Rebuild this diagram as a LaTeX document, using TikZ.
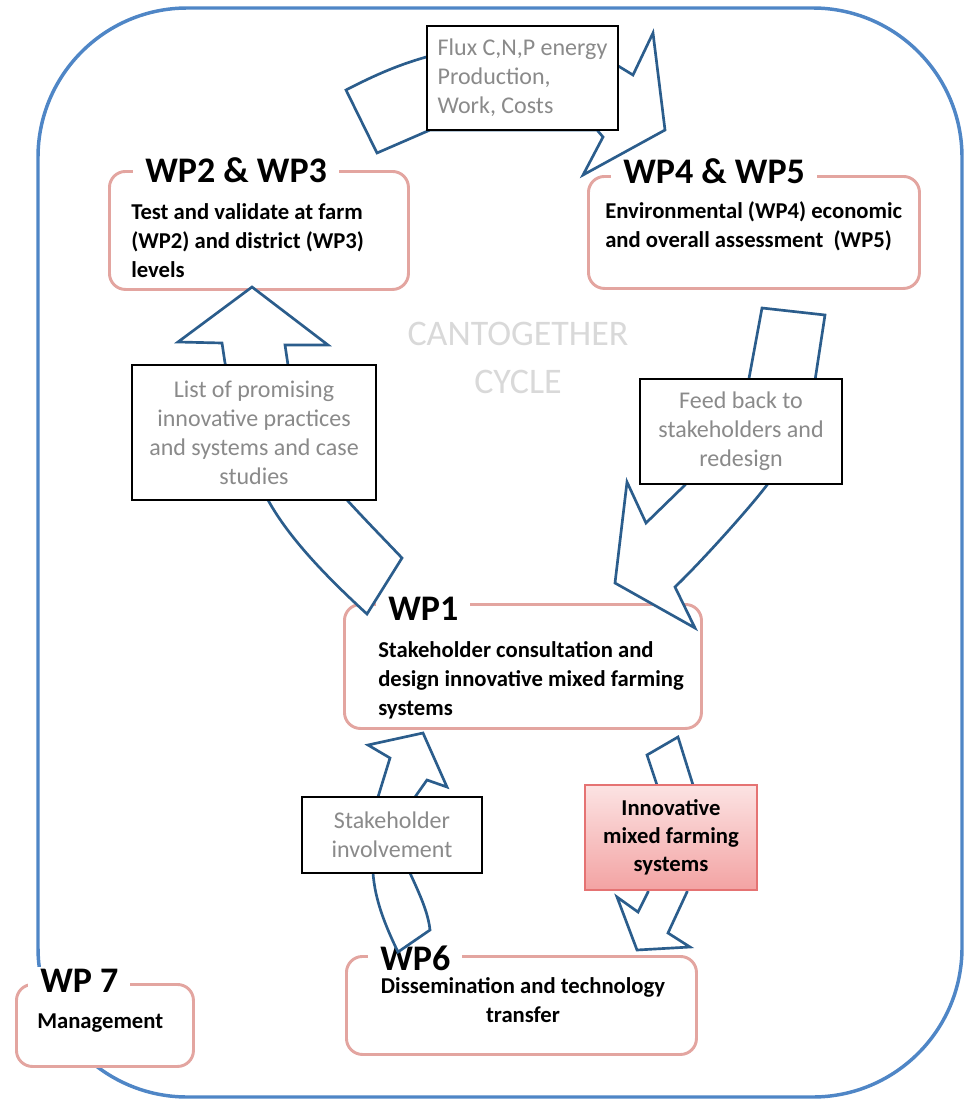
\documentclass[tikz,border=0pt]{standalone}
\usepackage{fontspec}
\setmainfont{Carlito}
\usetikzlibrary{positioning}
\definecolor{frameblue}{HTML}{4F86C6}
\definecolor{arrowblue}{HTML}{2B5D8C}
\definecolor{boxpink}{HTML}{E3A5A0}
\definecolor{labelgray}{HTML}{8A8A8A}
\definecolor{innovtop}{HTML}{FCE3E3}
\definecolor{innovbottom}{HTML}{F3A3A3}
\definecolor{innovedge}{HTML}{E57373}

\begin{document}
\begin{tikzpicture}[x=.75pt,y=-.75pt,
  wpbox/.style={draw=boxpink,line width=2.2pt,rounded corners=12pt,fill=white,anchor=north west,inner sep=0pt},
  wptitle/.style={fill=white,anchor=base west,inner xsep=9pt,inner ysep=1pt,font=\fontsize{27}{32}\selectfont\bfseries},
  wptext/.style={anchor=base west,align=left,inner sep=0pt,font=\fontsize{17}{21.5}\selectfont\bfseries},
  labelbox/.style={draw=black,line width=2.2pt,fill=white,align=center,text=labelgray,inner sep=0pt,font=\fontsize{18}{21.75}\selectfont},
  blockarrow/.style={draw=arrowblue,line width=2pt,fill=white}]
\useasboundingbox (0,0) rectangle (967,1099);
\draw[frameblue,line width=2.6pt,rounded corners=112pt] (38,8) rectangle (962,1097);

% work package boxes
\node[wpbox,minimum width=224.25pt,minimum height=88.5pt] (wp23) at (108,170) {};
\node[wpbox,minimum width=248.25pt,minimum height=84pt] (wp45) at (587,175) {};
\node[wpbox,minimum width=267.75pt,minimum height=93pt] (wp1) at (343,603) {};
\node[wpbox,minimum width=262.5pt,minimum height=73.5pt] (wp6) at (345,955) {};
\node[wpbox,minimum width=132.75pt,minimum height=61.5pt] (wp7) at (15,983) {};

\node[wptitle] (wp23title) at (133,182) {WP2 \& WP3};
\node[wptitle] (wp45title) at (611,183) {WP4 \& WP5};
\node[wptitle] (wp1title) at (376,620) {WP1};
\node[wptitle] (wp6title) at (368,970) {WP6};
\node[wptitle] (wp7title) at (28,992) {WP 7};

% multi-line text: base is the last line
\node[wptext] (wp23text) at (131,277) {Test and validate at farm\\(WP2) and district (WP3)\\levels};
\node[wptext] (wp45text) at (605,247) {Environmental (WP4) economic\\and overall assessment~~(WP5)};
\node[wptext] (wp1text) at (378,715) {Stakeholder consultation and\\design innovative mixed farming\\systems};
\node[wptext,anchor=base,align=center] (wp6text) at (523,1022) {Dissemination and technology\\transfer};
\node[wptext] (wp7text) at (37,1028) {Management};

\node[align=center,text=gray!30,font=\fontsize{27}{36}\selectfont] (cycle) at (518,393) [anchor=base] {CANTOGETHER\\CYCLE};

% block arrows of the cycle
\draw[blockarrow] (346,90) .. controls (375,75) and (400,64) .. (430,56) -- (615,64) -- (633,75)
  -- (653,33) -- (665,130) -- (583,175) -- (603,137) -- (597,130) -- (430,130) -- (377,153) -- cycle;
\draw[blockarrow] (367,614) .. controls (330,580) and (290,540) .. (268,500) -- (225,363) -- (222,343)
  -- (178,342) -- (252,287) -- (328,345) -- (285,345) -- (288,365) -- (347,500)
  .. controls (370,525) and (385,540) .. (402,558) -- cycle;
\draw[blockarrow] (762,308) -- (825,315) -- (812,400) -- (767,485) .. controls (752,505) and (705,558) .. (675,587)
  -- (695,628) -- (615,583) -- (627,482) -- (646,523) -- (685,485) -- (745,400) -- cycle;
\draw[blockarrow] (398,952) .. controls (385,925) and (375,900) .. (373,873) -- (378,797) -- (390,758)
  -- (368,745) -- (423,733) -- (447,787) -- (427,780) -- (415,797) -- (410,873)
  .. controls (420,895) and (428,912) .. (430,930) -- cycle;
\draw[blockarrow] (647,755) -- (678,737) -- (693,785) -- (687,892) -- (668,933) -- (690,947)
  -- (637,950) -- (617,897) -- (638,912) -- (648,892) -- (657,785) -- cycle;

% labels on the arrows
\node[labelbox,align=left,minimum width=143.25pt,minimum height=78pt] (flux) at (522.5,78) {Flux C,N,P energy\\Production,\\Work, Costs};
\node[labelbox,minimum width=183pt,minimum height=101.25pt] (promising) at (254,432.5) {List of promising\\innovative practices\\and systems and case\\studies};
\node[labelbox,minimum width=151.5pt,minimum height=78.75pt] (feedback) at (741,431.5) {Feed back to\\stakeholders and\\redesign};
\node[labelbox,minimum width=135pt,minimum height=57pt] (involve) at (392,835) {Stakeholder\\involvement};
\node[labelbox,draw=innovedge,line width=1.1pt,top color=innovtop,bottom color=innovbottom,text=black,font=\fontsize{17}{21}\selectfont\bfseries,minimum width=129pt,minimum height=78.75pt] (innov) at (671,837.5) {Innovative\\mixed farming\\systems};
\end{tikzpicture}
\end{document}
